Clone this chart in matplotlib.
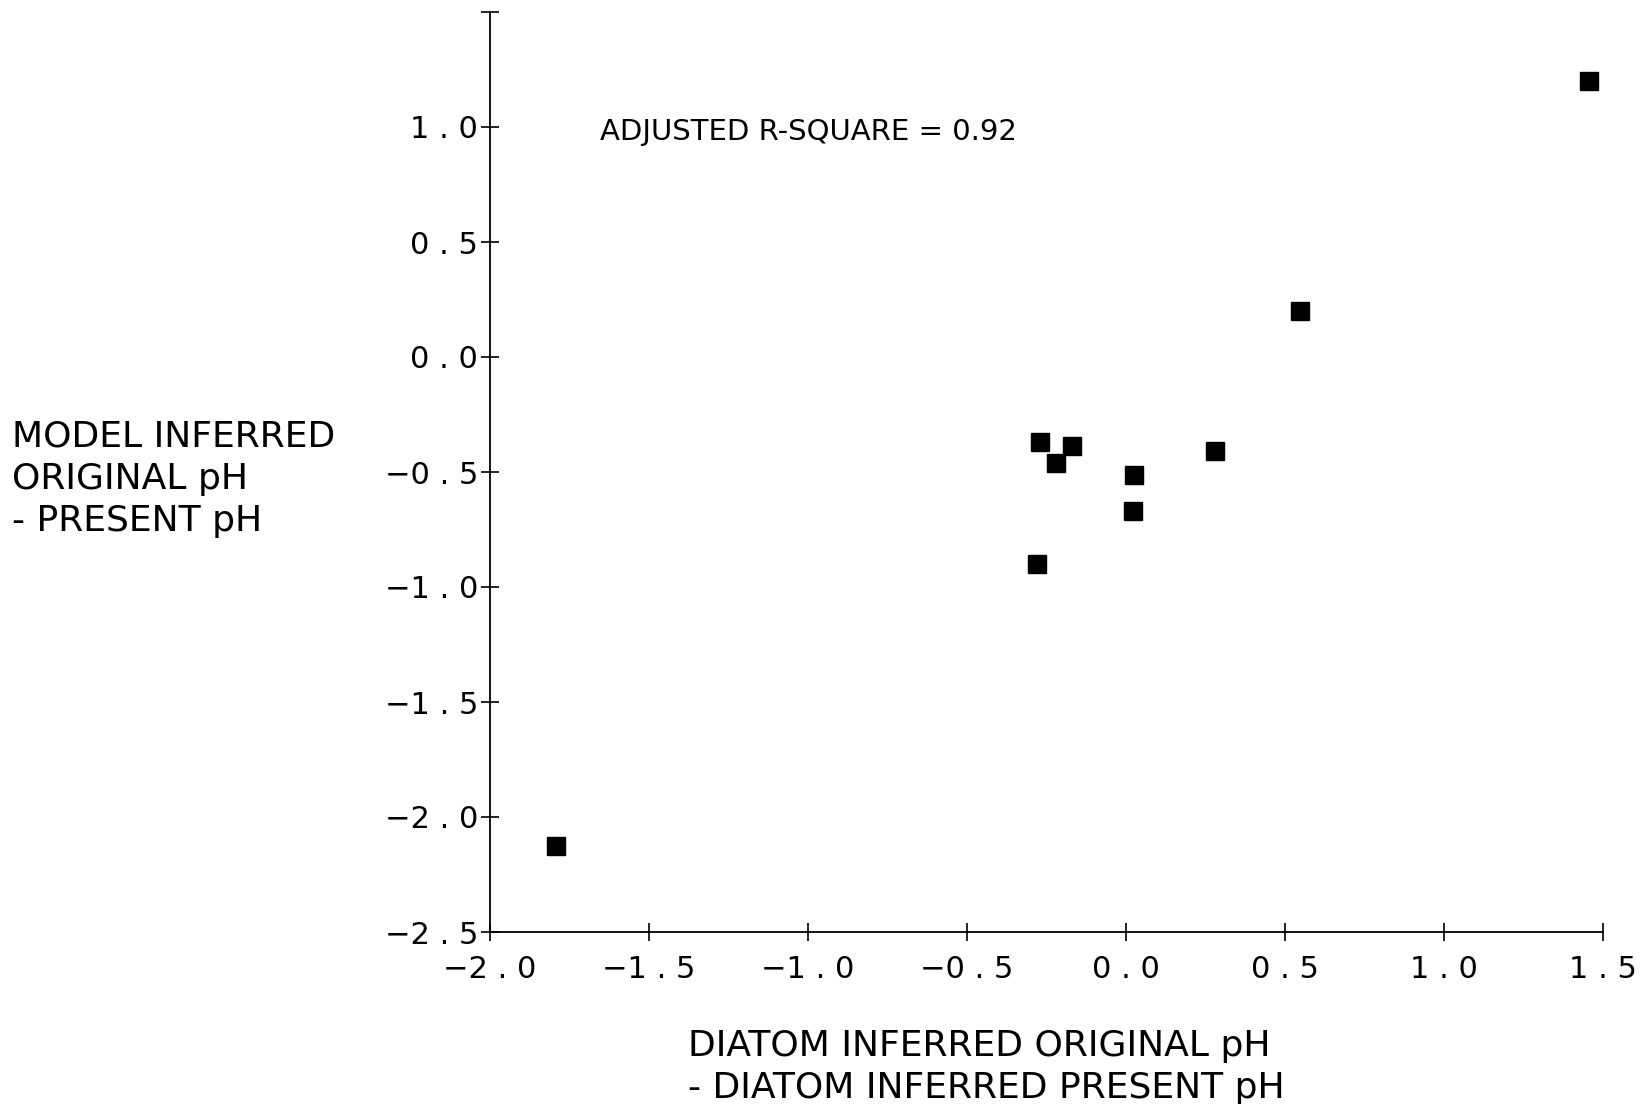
import matplotlib
matplotlib.use("Agg")
import matplotlib.pyplot as plt
from matplotlib.ticker import FixedLocator, FuncFormatter

# diatom inferred original pH - diatom inferred present pH
diatom_diff = [-1.793, -0.279, -0.270, -0.221, -0.169, 0.023, 0.026, 0.280, 0.547, 1.456]
# model inferred original pH - present pH
model_diff = [-2.125, -0.901, -0.368, -0.462, -0.386, -0.670, -0.513, -0.409, 0.201, 1.202]

x_ticks = [-2.0, -1.5, -1.0, -0.5, 0.0, 0.5, 1.0, 1.5]
y_ticks = [-2.5, -2.0, -1.5, -1.0, -0.5, 0.0, 0.5, 1.0, 1.5]
y_unlabeled = [1.5]

r2_text = "ADJUSTED R-SQUARE = 0.92"
x_label = "DIATOM INFERRED ORIGINAL pH\n- DIATOM INFERRED PRESENT pH"
y_label = "MODEL INFERRED\nORIGINAL pH\n- PRESENT pH"

plt.rcParams["font.family"] = ["DejaVu Sans"]


def plotter_label(v, pos=None, skip=()):
    # plotter style: "1 . 0", "-2 . 5"
    if any(abs(v - s) < 1e-9 for s in skip):
        return ""
    s = "{:.1f}".format(v).replace(".", " . ").replace("-", "\u2212")
    return s


fig = plt.figure(figsize=(16.41, 11.04), dpi=100)
ax = fig.add_axes([490 / 1641, 1 - 932 / 1104, (1603 - 490) / 1641, (932 - 12) / 1104])

ax.plot(diatom_diff, model_diff, linestyle="none", marker="s", markersize=13,
        color="black")

ax.set_xlim(-2.0, 1.5)
ax.set_ylim(-2.5, 1.5)

ax.spines["top"].set_visible(False)
ax.spines["right"].set_visible(False)
for sp in ("left", "bottom"):
    ax.spines[sp].set_linewidth(1.3)
    ax.spines[sp].set_color("black")

ax.xaxis.set_major_locator(FixedLocator(x_ticks))
ax.yaxis.set_major_locator(FixedLocator(y_ticks))
ax.xaxis.set_major_formatter(FuncFormatter(lambda v, p: plotter_label(v, p)))
ax.yaxis.set_major_formatter(FuncFormatter(lambda v, p: plotter_label(v, p, y_unlabeled)))

ax.tick_params(axis="both", direction="inout", length=13, width=1.2,
               labelsize=22, colors="black")
ax.tick_params(axis="x", pad=10)
ax.tick_params(axis="y", pad=2)

ax.text(-1.654, 0.98, r2_text, fontsize=21, va="center", ha="left")

fig.text(688 / 1641, 1 - 1067 / 1104, x_label, fontsize=26, ha="left",
         va="center", multialignment="left", linespacing=1.3)
fig.text(12 / 1641, 1 - 479 / 1104, y_label, fontsize=26, ha="left",
         va="center", multialignment="left", linespacing=1.3)

fig.savefig("out.png", dpi=100, facecolor="white")
